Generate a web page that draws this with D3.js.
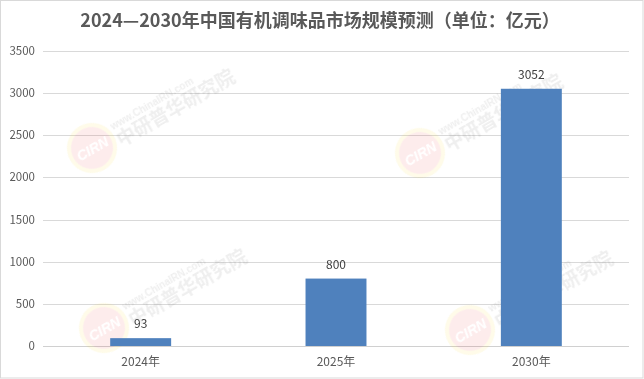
<!DOCTYPE html>
<html><head><meta charset="utf-8">
<script src="https://cdn.jsdelivr.net/npm/d3@7/dist/d3.min.js"></script>
<style>body{margin:0;background:#fff}svg{display:block}</style>
</head><body><svg id="c" width="644" height="379"></svg>
<script>
const categories = ["2024年", "2025年", "2030年"];
const values = [93, 800, 3052];
const yTicks = [0, 500, 1000, 1500, 2000, 2500, 3000, 3500];
const title = "2024—2030年中国有机调味品市场规模预测（单位：亿元）";
const watermarks = [[92,148],[104,328],[420,153],[470,330]];

const W = 644, H = 379;
const svg = d3.select("#c");
const font = "'Noto Sans CJK SC', 'Microsoft YaHei', sans-serif";
svg.append("rect").attr("x",0.5).attr("y",0.5).attr("width",W-1.5).attr("height",H-1.5)
  .attr("fill","#fff").attr("stroke","#d9d9d9");

const m = {left:43, right:629, top:51, bottom:346};
const x = d3.scaleBand().domain(categories).range([m.left, m.right]).padding(0);
const barW = x.bandwidth()*0.312;
const cx = d => x(d) + x.bandwidth()/2;
const y = d3.scaleLinear().domain([0,3500]).range([m.bottom, m.top]);

// gridlines
svg.append("g").selectAll("line").data(yTicks).join("line")
  .attr("x1",m.left).attr("x2",m.right)
  .attr("y1",d=>Math.round(y(d))+0.5).attr("y2",d=>Math.round(y(d))+0.5)
  .attr("stroke",d=>d===0?"#d0d0d0":"#d9d9d9").attr("stroke-width",1);

// watermarks
const wm = svg.append("g").attr("opacity",0.09);
watermarks.forEach(([wx,wy])=>{
  const g = wm.append("g").attr("transform",`translate(${wx},${wy}) rotate(-30)`);
  g.append("circle").attr("r",23).attr("fill","#e8262a");
  g.append("circle").attr("r",23).attr("fill","none").attr("stroke","#f5d20a").attr("stroke-width",4);
  g.append("text").attr("x",-17).attr("y",6).attr("fill","#fff").attr("font-family","Arial").attr("font-weight","bold").attr("font-style","italic").attr("font-size",14).text("CIRN");
  g.append("text").attr("x",27).attr("y",-5).attr("fill","#444").attr("font-family","Arial").attr("font-weight","bold").attr("font-size",10).text("www.ChinaIRN.com");
  g.append("text").attr("x",26).attr("y",14).attr("fill","#444").attr("font-family",font).attr("font-weight","bold").attr("font-size",19).text("中研普华研究院");
});

// bars
svg.append("g").selectAll("rect").data(values).join("rect")
  .attr("x",(d,i)=>cx(categories[i])-barW/2).attr("width",barW)
  .attr("y",d=>y(d)).attr("height",d=>m.bottom-y(d))
  .attr("fill","#4f81bd");

// value labels
svg.append("g").selectAll("text").data(values).join("text")
  .attr("x",(d,i)=>cx(categories[i])).attr("y",d=>y(d)-10)
  .attr("text-anchor","middle").attr("font-family",font).attr("font-size",12).attr("fill","#404040")
  .text(d=>d);

// y axis labels
svg.append("g").selectAll("text").data(yTicks).join("text")
  .attr("x",35).attr("y",d=>y(d)+4).attr("text-anchor","end")
  .attr("font-family",font).attr("font-size",11.5).attr("fill","#595959").text(d=>d);

// x labels
svg.append("g").selectAll("text").data(categories).join("text")
  .attr("x",d=>cx(d)).attr("y",366).attr("text-anchor","middle")
  .attr("font-family",font).attr("font-size",12).attr("fill","#595959").text(d=>d);

// title
svg.append("text").attr("x",320).attr("y",27).attr("text-anchor","middle")
  .attr("font-family",font).attr("font-weight","bold").attr("font-size",18).attr("fill","#595959").text(title);
</script></body></html>
